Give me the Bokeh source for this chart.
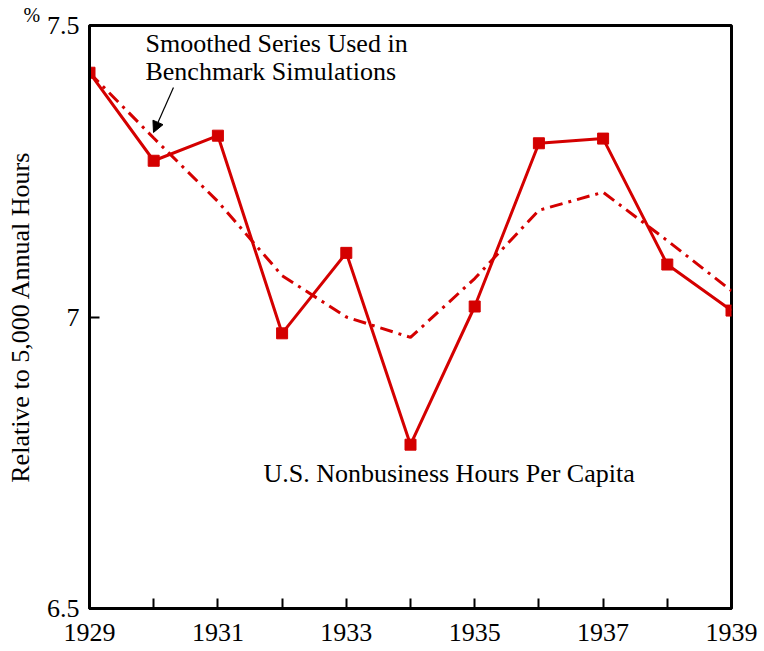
from bokeh.plotting import figure
from bokeh.models import Range1d, FixedTicker, Label, Arrow, NormalHead, ColumnDataSource
from bokeh.embed import file_html
from bokeh.resources import INLINE

# ---- data ----
years = [1929, 1930, 1931, 1932, 1933, 1934, 1935, 1936, 1937, 1938, 1939]
actual_hours = [7.419, 7.268, 7.311, 6.972, 7.110, 6.781, 7.018, 7.298, 7.306, 7.090, 7.011]
smoothed_hours = [7.419, 7.307, 7.198, 7.071, 7.000, 6.965, 7.066, 7.183, 7.214, 7.131, 7.045]

x_tick_values = [1929, 1930, 1931, 1932, 1933, 1934, 1935, 1936, 1937, 1938, 1939]
x_tick_labels = ["1929", "", "1931", "", "1933", "", "1935", "", "1937", "", "1939"]
y_tick_values = [6.5, 7.0, 7.5]
y_tick_labels = ["6.5", "7", "7.5"]

y_axis_title = "Relative to 5,000 Annual Hours"
unit_mark = "%"
smooth_label_lines = ["Smoothed Series Used in", "Benchmark Simulations"]
actual_label = "U.S. Nonbusiness Hours Per Capita"

RED = "#d40000"
FONT = "Liberation Serif"

src_a = ColumnDataSource(dict(x=years, y=actual_hours))
src_s = ColumnDataSource(dict(x=years, y=smoothed_hours))

p = figure(frame_width=642, frame_height=583,
           x_range=Range1d(years[0], years[-1]),
           y_range=Range1d(y_tick_values[0], y_tick_values[-1]),
           output_backend="svg", toolbar_location=None,
           min_border_left=89, min_border_right=33,
           min_border_top=25, min_border_bottom=43)

p.background_fill_color = "white"
p.border_fill_color = "white"
p.grid.visible = False
p.outline_line_color = "black"
p.outline_line_width = 3
p.outline_line_alpha = 1.0

# "%" unit mark, raised to the left of the top tick label
p.title.text = unit_mark
p.title.text_font = FONT
p.title.text_font_size = "20px"
p.title.text_font_style = "normal"
p.title.text_color = "black"
p.title.align = "left"
p.title.offset = -66
p.title.standoff = 0

# axes
xa = p.xaxis[0]
xa.ticker = FixedTicker(ticks=x_tick_values)
xa.major_label_overrides = {v: l for v, l in zip(x_tick_values, x_tick_labels)}
xa.minor_tick_line_color = None
xa.major_tick_in = 10
xa.major_tick_out = 0
xa.major_tick_line_width = 2
xa.axis_line_width = 3
xa.major_label_standoff = 15
xa.major_label_text_font = FONT
xa.major_label_text_font_size = "26px"
xa.major_label_text_color = "black"

ya = p.yaxis[0]
ya.ticker = FixedTicker(ticks=y_tick_values)
ya.major_label_overrides = {v: l for v, l in zip(y_tick_values, y_tick_labels)}
ya.minor_tick_line_color = None
ya.major_tick_in = 10
ya.major_tick_out = 0
ya.major_tick_line_width = 2
ya.axis_line_width = 3
ya.major_label_standoff = 10
ya.major_label_text_font = FONT
ya.major_label_text_font_size = "26px"
ya.major_label_text_color = "black"
ya.axis_label = y_axis_title
ya.axis_label_text_font = FONT
ya.axis_label_text_font_size = "26px"
ya.axis_label_text_font_style = "normal"
ya.axis_label_text_color = "black"
ya.axis_label_standoff = 9

# series
p.line("x", "y", source=src_s, line_color=RED, line_width=3, line_dash="13 6 3 6")
p.line("x", "y", source=src_a, line_color=RED, line_width=3)
p.scatter("x", "y", source=src_a, marker="square", size=11, fill_color=RED, line_color=RED)

# annotations
p.add_layout(Label(x=1929.872, y=7.4691, text=smooth_label_lines[0], text_font=FONT,
                   text_font_size="26px", text_baseline="alphabetic", text_color="black"))
p.add_layout(Label(x=1929.872, y=7.4211, text=smooth_label_lines[1], text_font=FONT,
                   text_font_size="26px", text_baseline="alphabetic", text_color="black"))
p.add_layout(Label(x=1931.71, y=6.7314, text=actual_label, text_font=FONT,
                   text_font_size="26px", text_baseline="alphabetic", text_color="black"))
p.add_layout(Arrow(end=NormalHead(size=11, fill_color="black", line_color="black"),
                   x_start=1930.308, y_start=7.3937, x_end=1929.997, y_end=7.3165,
                   line_color="black", line_width=1.2))

open("out.html", "w").write(file_html(p, INLINE))
